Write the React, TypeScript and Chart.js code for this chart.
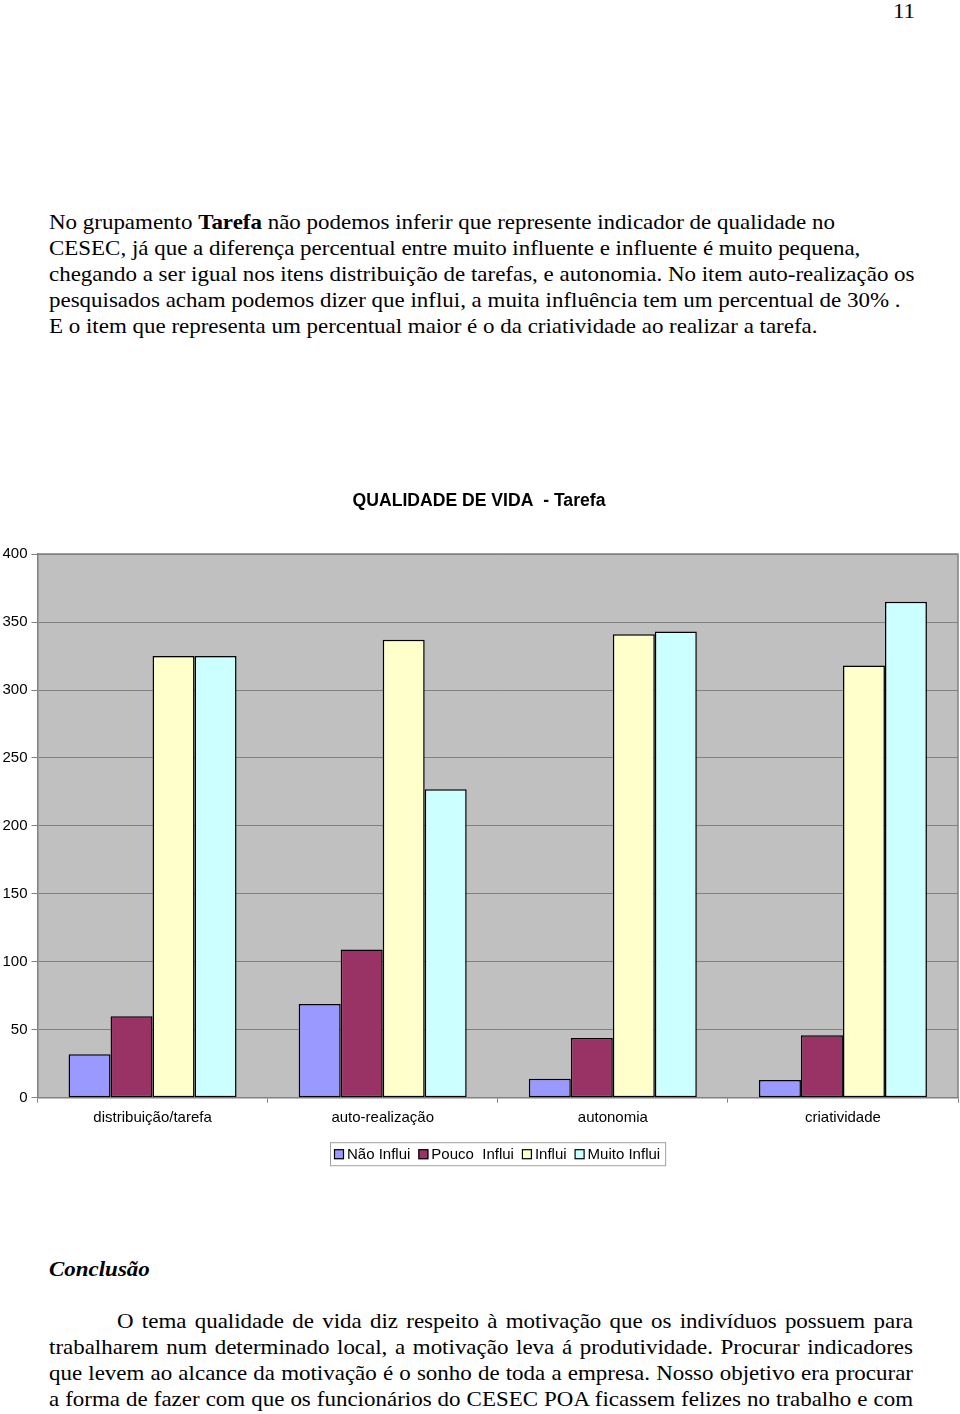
import React, { useEffect, useRef } from "react";
import { Chart, registerables } from "chart.js";

Chart.register(...registerables);

const categories = ["distribuição/tarefa", "auto-realização", "autonomia", "criatividade"];
const seriesNames = ["Não Influi", "Pouco  Influi", "Influi", "Muito Influi"];
const naoInflui = [32, 69, 14, 13];
const poucoInflui = [60, 109, 44, 46];
const influi = [325, 337, 341, 318];
const muitoInflui = [325, 227, 343, 365];
const seriesValues = [naoInflui, poucoInflui, influi, muitoInflui];
const seriesColors = ["#9999FF", "#993366", "#FFFFCC", "#CCFFFF"];
const yMin = 0;
const yMax = 400;
const yStep = 50;
const chartTitle = "QUALIDADE DE VIDA  - Tarefa";

const para1Lines: React.ReactNode[] = [
  <>No grupamento <b>Tarefa</b> não podemos inferir que represente indicador de qualidade no</>,
  "CESEC, já que a diferença percentual entre muito influente e influente é muito pequena,",
  "chegando a ser igual nos itens distribuição de tarefas, e autonomia. No item auto-realização os",
  "pesquisados acham podemos dizer que influi, a muita influência tem um percentual de 30% .",
  "E o item que representa um percentual maior é o da criatividade ao realizar a tarefa.",
];
const para2Lines = [
  "O tema qualidade de vida diz respeito à motivação que os indivíduos possuem para",
  "trabalharem num determinado local, a motivação leva á produtividade. Procurar indicadores",
  "que levem ao alcance da motivação é o sonho de toda a empresa. Nosso objetivo era procurar",
  "a forma de fazer com que os  funcionários do CESEC POA ficassem felizes no trabalho e com",
];

const SANS = "'Liberation Sans', Arial, sans-serif";
const SERIF = "'Liberation Serif', 'Times New Roman', serif";
const FS = 21;
const SX = 1.093;

const CANVAS_TOP = 470;
const CANVAS_H = 720;

const plotBgPlugin = {
  id: "plotBg",
  beforeDraw(chart: any) {
    const { ctx, chartArea } = chart;
    ctx.save();
    ctx.fillStyle = "#C0C0C0";
    ctx.fillRect(chartArea.left, chartArea.top, chartArea.right - chartArea.left, chartArea.bottom - chartArea.top);
    ctx.restore();
  },
  afterDatasetsDraw(chart: any) {
    const { ctx, chartArea } = chart;
    ctx.save();
    ctx.strokeStyle = "#808080";
    ctx.lineWidth = 1.5;
    ctx.beginPath();
    ctx.moveTo(chartArea.left, chartArea.top);
    ctx.lineTo(chartArea.right, chartArea.top);
    ctx.lineTo(chartArea.right, chartArea.bottom);
    ctx.stroke();
    ctx.restore();
  },
};

const legendBoxPlugin = {
  id: "legendBox",
  afterDraw(chart: any) {
    const { ctx, chartArea } = chart;
    const top = chartArea.bottom + 44.5;
    const h = 23;
    const left = 330;
    ctx.save();
    ctx.font = `15px ${SANS}`;
    const widths = chart.data.datasets.map((d: any) => ctx.measureText(d.label).width);
    let total = 4;
    widths.forEach((w: number, i: number) => {
      total += 13 + w + (i < widths.length - 1 ? 8 : 0);
    });
    total += 5;
    ctx.strokeStyle = "#A0A0A0";
    ctx.lineWidth = 1;
    ctx.strokeRect(left + 0.5, top + 0.5, total, h);
    let x = left + 4;
    const cy = top + h / 2 + 0.5;
    chart.data.datasets.forEach((d: any, i: number) => {
      ctx.fillStyle = d.backgroundColor;
      ctx.fillRect(x, cy - 5, 10, 10);
      ctx.strokeStyle = "#000";
      ctx.lineWidth = 1.2;
      ctx.strokeRect(x + 0.5, cy - 4.5, 9, 9);
      ctx.fillStyle = "#000";
      ctx.textBaseline = "middle";
      ctx.textAlign = "left";
      ctx.fillText(d.label, x + 13, cy + 1);
      x += 13 + widths[i] + 8;
    });
    ctx.restore();
  },
};

function BarChart() {
  const ref = useRef<HTMLCanvasElement | null>(null);
  useEffect(() => {
    if (!ref.current) return;
    const chart = new Chart(ref.current, {
      type: "bar",
      data: {
        labels: categories,
        datasets: seriesNames.map((name, i) => ({
          label: name,
          data: seriesValues[i],
          backgroundColor: seriesColors[i],
          borderColor: "#000000",
          borderWidth: 1.5,
          borderSkipped: false,
          barPercentage: 1,
          categoryPercentage: 0.73,
        })),
      },
      options: {
        animation: false,
        responsive: false,
        devicePixelRatio: 1,
        layout: { padding: { left: 0, right: 2, top: 0, bottom: 62.3 } },
        plugins: {
          legend: { display: false },
          tooltip: { enabled: false },
          title: {
            display: true,
            text: chartTitle,
            color: "#000",
            font: { family: SANS, size: 17.6, weight: "bold" },
            padding: { top: 20.3, bottom: 42.7 },
          },
        },
        scales: {
          x: {
            offset: true,
            grid: {
              offset: true,
              drawOnChartArea: false,
              drawTicks: true,
              tickLength: 5,
              color: "#808080",
            },
            border: { display: true, color: "#808080", width: 1.5 },
            ticks: {
              color: "#000",
              font: { family: SANS, size: 15 },
              padding: 6,
              maxRotation: 0,
            },
            afterFit: (s: any) => {
              s.height = 30;
            },
          },
          y: {
            min: yMin,
            max: yMax,
            ticks: {
              stepSize: yStep,
              color: "#000",
              font: { family: SANS, size: 15 },
              padding: 4,
            },
            grid: {
              color: "#808080",
              lineWidth: 1,
              tickLength: 6,
            },
            border: { display: true, color: "#808080", width: 1.5 },
            afterFit: (s: any) => {
              s.width = 37.5;
            },
          },
        },
      },
      plugins: [plotBgPlugin, legendBoxPlugin],
    } as any);
    return () => chart.destroy();
  }, []);
  return (
    <canvas
      ref={ref}
      width={960}
      height={CANVAS_H}
      style={{ position: "absolute", left: 0, top: CANVAS_TOP, width: 960, height: CANVAS_H }}
    />
  );
}

function Line({ baseline, left = 49, children, style }: { baseline: number; left?: number; children: React.ReactNode; style?: React.CSSProperties }) {
  return (
    <div
      style={{
        position: "absolute",
        left,
        top: baseline - 0.8375 * FS,
        lineHeight: `${FS}px`,
        whiteSpace: "pre",
        transform: `scaleX(${SX})`,
        transformOrigin: "0 0",
        ...style,
      }}
    >
      {children}
    </div>
  );
}

export default function App() {
  return (
    <div
      style={{
        position: "absolute",
        left: 0,
        top: 0,
        width: 960,
        height: 1414,
        background: "#fff",
        color: "#000",
        fontFamily: SERIF,
        fontSize: FS,
        overflow: "hidden",
      }}
    >
      <Line baseline={18.3} left={893}>11</Line>
      {para1Lines.map((l, i) => (
        <Line key={i} baseline={229.8 + i * 26}>
          {l}
        </Line>
      ))}
      <BarChart />
      <Line baseline={1277} style={{ fontWeight: "bold", fontStyle: "italic" }}>
        Conclusão
      </Line>
      {para2Lines.map((l, i) => (
        <Line
          key={i}
          baseline={1328.5 + i * 26}
          style={{
            width: 864 / SX,
            whiteSpace: "normal",
            textAlign: "justify",
            textAlignLast: "justify",
            paddingLeft: i === 0 ? 68 / SX : 0,
            boxSizing: "border-box",
          }}
        >
          {l}
        </Line>
      ))}
    </div>
  );
}
